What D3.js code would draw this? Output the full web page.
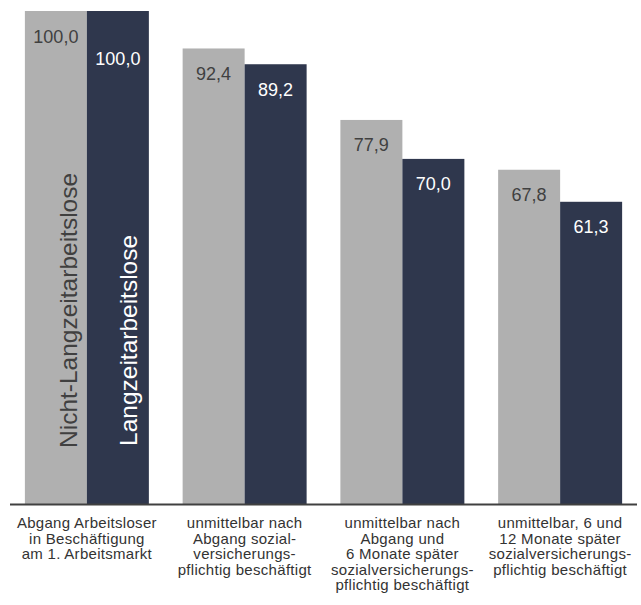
<!DOCTYPE html>
<html><head><meta charset="utf-8">
<script src="https://cdn.jsdelivr.net/npm/d3@7"></script>
<style>
html,body{margin:0;padding:0;background:#fff;}
svg{display:block;}
</style>
</head><body>
<svg id="chart" width="641" height="605"></svg>
<script>
const categories = [
  ["Abgang Arbeitsloser","in Beschäftigung","am 1. Arbeitsmarkt"],
  ["unmittelbar nach","Abgang sozial-","versicherungs-","pflichtig beschäftigt"],
  ["unmittelbar nach","Abgang und","6 Monate später","sozialversicherungs-","pflichtig beschäftigt"],
  ["unmittelbar, 6 und","12 Monate später","sozialversicherungs-","pflichtig beschäftigt"]
];
const seriesNames = ["Nicht-Langzeitarbeitslose","Langzeitarbeitslose"];
const nichtLZA = [100.0, 92.4, 77.9, 67.8];
const lza = [100.0, 89.2, 70.0, 61.3];
const colors = ["#b0b0b0","#2f374d"];
const labelColors = ["#404040","#ffffff"];

const svg = d3.select("#chart");
const fmt = v => d3.format(".1f")(v).replace(".", ",");
const keys = categories.map((c,i)=>"c"+i);

const x0 = d3.scaleBand().domain(keys).range([8, 639]).paddingInner(0.214).paddingOuter(0.107);
const x1 = d3.scaleBand().domain([0,1]).range([0, x0.bandwidth()]);
const y = d3.scaleLinear().domain([0, 100]).range([504, 11]);

const data = keys.map((k,i)=>({key:k, values:[nichtLZA[i], lza[i]]}));

const g = svg.append("g");
const groups = g.selectAll("g.grp").data(data).join("g")
  .attr("class","grp")
  .attr("transform", d=>`translate(${x0(d.key)},0)`);

groups.selectAll("rect").data(d=>d.values.map((v,s)=>({v,s,gi:keys.indexOf(d.key)}))).join("rect")
  .attr("x", d=>x1(d.s))
  .attr("width", x1.bandwidth())
  .attr("y", d=>y(d.v))
  .attr("height", d=>y(0)-y(d.v))
  .attr("fill", d=>colors[d.s]);

groups.selectAll("text.val").data(d=>d.values.map((v,s)=>({v,s,gi:keys.indexOf(d.key)}))).join("text")
  .attr("class","val")
  .attr("x", d=>x1(d.s)+x1.bandwidth()/2)
  .attr("y", d=>y(d.v)+31.5+(d.gi===0&&d.s===1?22:0))
  .attr("text-anchor","middle")
  .attr("font-family","Liberation Sans, Arial, sans-serif")
  .attr("font-size","18px")
  .attr("fill", d=>labelColors[d.s])
  .text(d=>fmt(d.v));

// series names rotated inside first group bars
const nameShift = [21.5, 19];
seriesNames.forEach((name,s)=>{
  const bx = x0(keys[0]) + x1(s) + x1.bandwidth()/2;
  g.append("text")
    .attr("transform", `translate(${bx+nameShift[s]},${s===0?448:446}) rotate(-90)`)
    .attr("font-family","Liberation Sans, Arial, sans-serif")
    .attr("font-size","24.5px")
    .attr("fill", labelColors[s])
    .text(name);
});

// baseline axis
const xAxis = d3.axisBottom(x0).tickSize(0).tickFormat("");
const ax = svg.append("g").attr("transform", `translate(0,${y(0)})`).call(xAxis);
ax.select(".domain").attr("d","M10,0.5H637").attr("stroke","#404040").attr("stroke-width",2);

// category labels
const cl = svg.append("g");
categories.forEach((lines,i)=>{
  const cx = x0(keys[i]) + x0.bandwidth()/2;
  const t = cl.append("text")
    .attr("text-anchor","middle")
    .attr("font-family","Liberation Sans, Arial, sans-serif")
    .attr("font-size","15px")
    .attr("letter-spacing","0.3px")
    .attr("fill","#333333");
  lines.forEach((ln,j)=>{
    t.append("tspan").attr("x",cx).attr("y",528+j*15.5).text(ln);
  });
});
</script>
</body></html>
